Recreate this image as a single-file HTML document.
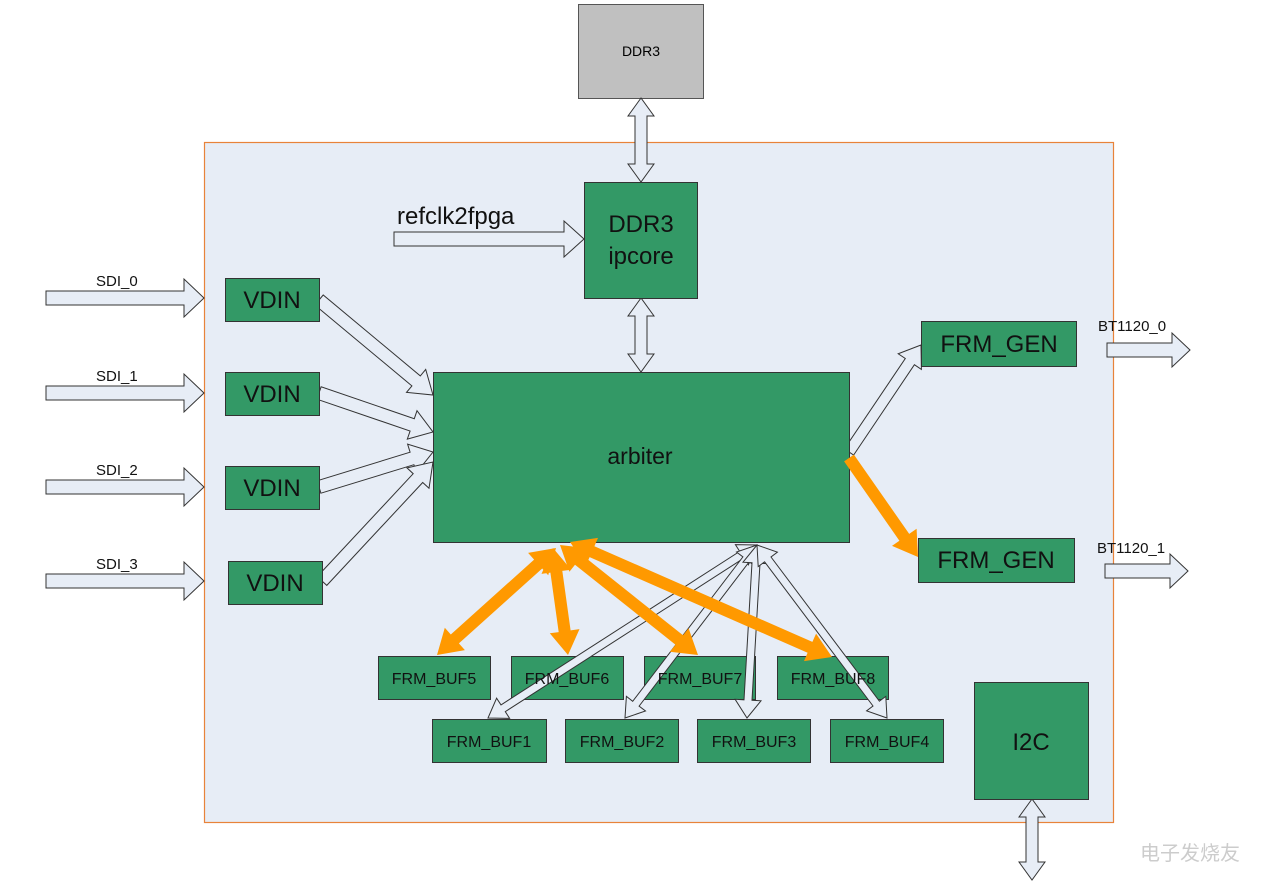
<!DOCTYPE html>
<html><head><meta charset="utf-8"><style>
html,body{margin:0;padding:0;background:#fff;}
svg text{font-family:"Liberation Sans","Noto Sans CJK SC",sans-serif;}
</style></head><body>
<svg id="s" width="1261" height="885" viewBox="0 0 1261 885" xmlns="http://www.w3.org/2000/svg">
<rect x="204.5" y="142.5" width="909" height="680" fill="#e7edf6" stroke="#e8833a" stroke-width="1.2"/>
<rect x="578.5" y="4.5" width="125" height="94" fill="#c0c0c0" stroke="#555"/>
<text x="641" y="56" font-size="14" text-anchor="middle">DDR3</text>
<g id="arrows"></g>
<g fill="#339966" stroke="#333" stroke-width="1">
<rect x="584.5" y="182.5" width="113" height="116"/>
<rect x="433.5" y="372.5" width="416" height="170"/>
<rect x="225.5" y="278.5" width="94" height="43"/>
<rect x="225.5" y="372.5" width="94" height="43"/>
<rect x="225.5" y="466.5" width="94" height="43"/>
<rect x="228.5" y="561.5" width="94" height="43"/>
<rect x="921.5" y="321.5" width="155" height="45"/>
<rect x="918.5" y="538.5" width="156" height="44"/>
<rect x="378.5" y="656.5" width="112" height="43"/>
<rect x="511.5" y="656.5" width="112" height="43"/>
<rect x="644.5" y="656.5" width="111" height="43"/>
<rect x="777.5" y="656.5" width="111" height="43"/>
<rect x="432.5" y="719.5" width="114" height="43"/>
<rect x="565.5" y="719.5" width="113" height="43"/>
<rect x="697.5" y="719.5" width="113" height="43"/>
<rect x="830.5" y="719.5" width="113" height="43"/>
<rect x="974.5" y="682.5" width="114" height="117"/>
</g>
<g id="arrows2"></g>
<g font-size="24" text-anchor="middle" fill="#111">
<text x="641" y="232">DDR3</text>
<text x="641" y="264">ipcore</text>
<text x="640" y="464" font-size="23">arbiter</text>
<text x="272" y="308">VDIN</text>
<text x="272" y="402">VDIN</text>
<text x="272" y="496">VDIN</text>
<text x="275" y="591">VDIN</text>
<text x="999" y="352">FRM_GEN</text>
<text x="996" y="568">FRM_GEN</text>
<text x="1031" y="750">I2C</text>
</g>
<g font-size="16" text-anchor="middle" fill="#111">
<text x="434" y="684">FRM_BUF5</text>
<text x="567" y="684">FRM_BUF6</text>
<text x="700" y="684">FRM_BUF7</text>
<text x="833" y="684">FRM_BUF8</text>
<text x="489" y="747">FRM_BUF1</text>
<text x="622" y="747">FRM_BUF2</text>
<text x="754" y="747">FRM_BUF3</text>
<text x="887" y="747">FRM_BUF4</text>
</g>
<g font-size="15" fill="#111">
<text x="96" y="286">SDI_0</text>
<text x="96" y="381">SDI_1</text>
<text x="96" y="475">SDI_2</text>
<text x="96" y="569">SDI_3</text>
<text x="1098" y="331">BT1120_0</text>
<text x="1097" y="553">BT1120_1</text>
</g>
<text x="397" y="224" font-size="24" fill="#111">refclk2fpga</text>
<text x="1140" y="860" font-size="20" fill="#ccc">电子发烧友</text>
</svg>
<script>
function arr(g,x1,y1,x2,y2,w,hw,hl,dbl,fill,stroke){
 var dx=x2-x1,dy=y2-y1,L=Math.hypot(dx,dy),ux=dx/L,uy=dy/L,nx=-uy,ny=ux;
 function P(t,s){return (x1+ux*t+nx*s).toFixed(1)+","+(y1+uy*t+ny*s).toFixed(1);}
 var pts=[];
 if(dbl){pts.push(P(0,0),P(hl,hw/2),P(hl,w/2));}else{pts.push(P(0,w/2));}
 pts.push(P(L-hl,w/2),P(L-hl,hw/2),P(L,0),P(L-hl,-hw/2),P(L-hl,-w/2));
 if(dbl){pts.push(P(hl,-w/2),P(hl,-hw/2));}else{pts.push(P(0,-w/2));}
 var p=document.createElementNS("http://www.w3.org/2000/svg","polygon");
 p.setAttribute("points",pts.join(" "));p.setAttribute("fill",fill);
 p.setAttribute("stroke",stroke);p.setAttribute("stroke-width",stroke=="none"?0:1);
 document.getElementById(g).appendChild(p);
}
var W="#e7edf6",K="#333",O="#ff9900";
[298,393,487,581].forEach(function(y){arr("arrows",46,y,204,y,14,38,20,false,W,K);});
arr("arrows",1107,350,1190,350,14,34,18,false,W,K);
arr("arrows",1105,571,1188,571,14,34,18,false,W,K);
arr("arrows",394,239,584,239,14,36,20,false,W,K);
arr("arrows",641,98,641,182,12,26,18,true,W,K);
arr("arrows",641,298,641,372,12,26,18,true,W,K);
arr("arrows",1032,799,1032,880,12,26,18,true,W,K);
arr("arrows",319,300,433,395,13,30,22,false,W,K);
arr("arrows",319,393,433,432,13,30,22,false,W,K);
arr("arrows",319,487,433,452,13,30,22,false,W,K);
arr("arrows",322,581,433,462,13,30,22,false,W,K);
arr("arrows",849,452,921,345,11,28,20,false,W,K);
arr("arrows2",757,545,488,718,8,24,18,true,W,K);
arr("arrows2",757,545,625,718,8,24,18,true,W,K);
arr("arrows2",757,545,747,718,8,26,18,true,W,K);
arr("arrows2",757,545,887,718,8,24,18,true,W,K);
arr("arrows2",849,458,918,557,12,30,24,false,O,"none");
arr("arrows2",556,548,437,655,12,30,24,true,O,"none");
arr("arrows2",553,548,568,655,12,30,24,true,O,"none");
arr("arrows2",560,545,698,655,12,30,24,true,O,"none");
arr("arrows2",570,542,832,657,12,30,24,true,O,"none");
</script>
</body></html>
